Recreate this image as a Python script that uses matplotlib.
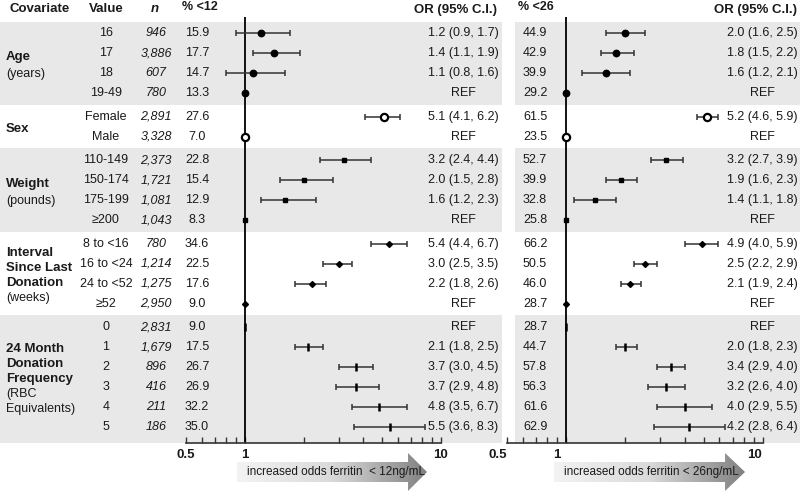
import numpy as np
import matplotlib.pyplot as plt
import matplotlib.transforms as mtransforms
from matplotlib.patches import Polygon, Rectangle
from matplotlib.colors import LinearSegmentedColormap

plt.rcParams['font.family'] = ['Liberation Sans', 'DejaVu Sans']

# --- data ---
group_bold = [['Age'], ['Sex'], ['Weight'],
              ['Interval', 'Since Last', 'Donation'],
              ['24 Month', 'Donation', 'Frequency']]
group_sub = [['(years)'], [], ['(pounds)'], ['(weeks)'], ['(RBC', 'Equivalents)']]
group_sizes = [4, 2, 4, 4, 6]
group_markers = ['o', 'open', 's', 'D', '|']

values = ['16', '17', '18', '19-49', 'Female', 'Male',
          '110-149', '150-174', '175-199', '≥200',
          '8 to <16', '16 to <24', '24 to <52', '≥52',
          '0', '1', '2', '3', '4', '5']
n_donors = ['946', '3,886', '607', '780', '2,891', '3,328',
            '2,373', '1,721', '1,081', '1,043',
            '780', '1,214', '1,275', '2,950',
            '2,831', '1,679', '896', '416', '211', '186']
pct12 = ['15.9', '17.7', '14.7', '13.3', '27.6', '7.0',
         '22.8', '15.4', '12.9', '8.3', '34.6', '22.5', '17.6', '9.0',
         '9.0', '17.5', '26.7', '26.9', '32.2', '35.0']
pct26 = ['44.9', '42.9', '39.9', '29.2', '61.5', '23.5',
         '52.7', '39.9', '32.8', '25.8', '66.2', '50.5', '46.0', '28.7',
         '28.7', '44.7', '57.8', '56.3', '61.6', '62.9']

# None = reference category (OR = 1)
or12 = [1.2, 1.4, 1.1, None, 5.1, None, 3.2, 2.0, 1.6, None,
        5.4, 3.0, 2.2, None, None, 2.1, 3.7, 3.7, 4.8, 5.5]
lo12 = [0.9, 1.1, 0.8, None, 4.1, None, 2.4, 1.5, 1.2, None,
        4.4, 2.5, 1.8, None, None, 1.8, 3.0, 2.9, 3.5, 3.6]
hi12 = [1.7, 1.9, 1.6, None, 6.2, None, 4.4, 2.8, 2.3, None,
        6.7, 3.5, 2.6, None, None, 2.5, 4.5, 4.8, 6.7, 8.3]

or26 = [2.0, 1.8, 1.6, None, 5.2, None, 3.2, 1.9, 1.4, None,
        4.9, 2.5, 2.1, None, None, 2.0, 3.4, 3.2, 4.0, 4.2]
lo26 = [1.6, 1.5, 1.2, None, 4.6, None, 2.7, 1.6, 1.1, None,
        4.0, 2.2, 1.9, None, None, 1.8, 2.9, 2.6, 2.9, 2.8]
hi26 = [2.5, 2.2, 2.1, None, 5.9, None, 3.9, 2.3, 1.8, None,
        5.9, 2.9, 2.4, None, None, 2.3, 4.0, 4.0, 5.5, 6.4]

# --- layout ---
W, H = 800, 492
fig = plt.figure(figsize=(W / 100, H / 100), dpi=100)
TXT = '#1a1a1a'
LINE = '#333333'
BAND = '#e8e8e8'
FS = 9


def fx(px):
    return px / W


def fy(py):
    return 1 - py / H


ax_bottom, ax_top = fy(443), fy(17)
axL = fig.add_axes([fx(186), ax_bottom, fx(441) - fx(186), ax_top - ax_bottom])
axR = fig.add_axes([fx(507), ax_bottom, fx(763) - fx(507), ax_top - ax_bottom])

group_idx = np.repeat(np.arange(len(group_sizes)), group_sizes)
ypos = np.arange(len(values)) + 0.175 * group_idx
starts = np.cumsum([0] + group_sizes[:-1])
ends = starts + np.array(group_sizes) - 1
ylim = (20.5, -0.8)

for ax in (axL, axR):
    ax.set_facecolor('none')
    ax.set_xscale('log')
    ax.set_xlim(0.5, 10)
    ax.set_ylim(*ylim)
    for s in ('top', 'left', 'right'):
        ax.spines[s].set_visible(False)
    ax.spines['bottom'].set_linewidth(1.2)
    ax.spines['bottom'].set_color(LINE)
    ax.set_yticks([])
    ax.set_xticks([0.5, 1, 10])
    ax.set_xticks([0.6, 0.7, 0.8, 0.9, 2, 3, 4, 5, 6, 7, 8, 9], minor=True)
    ax.set_xticklabels(['0.5', '1', '10'], fontweight='bold', fontsize=9.5, color=TXT)
    ax.xaxis.set_minor_formatter(plt.NullFormatter())
    ax.tick_params(axis='x', which='both', direction='in', length=4, width=1, color=LINE, pad=4)
    ax.axvline(1, color='black', lw=1.3, zorder=2)

# the right panel's tick labels sit a little left of their ticks in the original
shift = mtransforms.ScaledTranslation(-9 / 100, 0, fig.dpi_scale_trans)
for lab in axR.get_xticklabels():
    lab.set_transform(lab.get_transform() + shift)


def draw_forest(ax, est, lo, hi):
    for i, y in enumerate(ypos):
        m = group_markers[group_idx[i]]
        x = 1.0 if est[i] is None else est[i]
        if lo[i] is not None:
            ax.errorbar(x, y, xerr=[[x - lo[i]], [hi[i] - x]], fmt='none',
                        ecolor=LINE, elinewidth=1.1, capsize=2.5, capthick=1.1, zorder=3)
        if m == 'open':
            ax.plot(x, y, marker='o', ms=5.2, mfc='white', mec='black', mew=1.6, zorder=4)
        elif m == 'o':
            ax.plot(x, y, marker='o', ms=4.6, color='black', zorder=4)
        elif m == 's':
            ax.plot(x, y, marker='s', ms=3.2, color='black', zorder=4)
        elif m == 'D':
            ax.plot(x, y, marker='D', ms=3, color='black', zorder=4)
        else:
            ax.plot(x, y, marker='|', ms=6, mew=1.8, color='black', zorder=4)


draw_forest(axL, or12, lo12, hi12)
draw_forest(axR, or26, lo26, hi26)

tr = mtransforms.blended_transform_factory(fig.transFigure, axL.transData)

# alternating grey bands
for k in range(len(group_sizes)):
    if k % 2:
        continue
    top = ylim[1] + 0.25 if k == 0 else (ypos[ends[k - 1]] + ypos[starts[k]]) / 2
    bot = ylim[0] if k == len(group_sizes) - 1 else (ypos[ends[k]] + ypos[starts[k + 1]]) / 2
    for x0, x1 in ((0, 502), (515, 800)):
        fig.add_artist(Rectangle((fx(x0), top), fx(x1) - fx(x0), bot - top,
                                 transform=tr, facecolor=BAND, edgecolor='none', zorder=-1))

# table text
def or_text(e, l, h):
    return 'REF' if e is None else f'{e:.1f} ({l:.1f}, {h:.1f})'


for i, y in enumerate(ypos):
    fig.text(fx(106), y, values[i], transform=tr, ha='center', va='center', fontsize=FS, color=TXT)
    fig.text(fx(156), y, n_donors[i], transform=tr, ha='center', va='center', fontsize=FS,
             style='italic', color=TXT)
    fig.text(fx(197), y, pct12[i], transform=tr, ha='center', va='center', fontsize=FS, color=TXT)
    fig.text(fx(463), y, or_text(or12[i], lo12[i], hi12[i]), transform=tr, ha='center',
             va='center', fontsize=FS, color=TXT)
    fig.text(fx(523), y, pct26[i], transform=tr, ha='left', va='center', fontsize=FS, color=TXT)
    fig.text(fx(762), y, or_text(or26[i], lo26[i], hi26[i]), transform=tr, ha='center',
             va='center', fontsize=FS, color=TXT)

# covariate labels
for k in range(len(group_sizes)):
    lines = [(s, 'bold') for s in group_bold[k]] + [(s, 'normal') for s in group_sub[k]]
    centre = (ypos[starts[k]] + ypos[ends[k]]) / 2 + 0.1
    step = 0.75 if len(lines) > 2 else 0.85
    y0 = centre - step * (len(lines) - 1) / 2
    for j, (s, w) in enumerate(lines):
        fig.text(fx(6), y0 + j * step, s, transform=tr, ha='left', va='center',
                 fontsize=9.5 if w == 'bold' else FS, fontweight=w, color=TXT)

# headers
fig.text(fx(10), fy(9), 'Covariate', ha='left', va='center', fontsize=9.5, fontweight='bold', color=TXT)
fig.text(fx(106), fy(9), 'Value', ha='center', va='center', fontsize=9.5, fontweight='bold', color=TXT)
fig.text(fx(155), fy(9), 'n', ha='center', va='center', fontsize=9.5, fontweight='bold',
         style='italic', color=TXT)
fig.text(fx(200), fy(7), '% <12', ha='center', va='center', fontsize=9, fontweight='bold', color=TXT)
fig.text(fx(497), fy(10), 'OR (95% C.I.)', ha='right', va='center', fontsize=9.5, fontweight='bold', color=TXT)
fig.text(fx(536), fy(7), '% <26', ha='center', va='center', fontsize=9, fontweight='bold', color=TXT)
fig.text(fx(797), fy(10), 'OR (95% C.I.)', ha='right', va='center', fontsize=9.5, fontweight='bold', color=TXT)

# gradient arrows under the axes
ov = fig.add_axes([0, 0, 1, 1], zorder=-2)
ov.set_xlim(0, W)
ov.set_ylim(H, 0)
ov.axis('off')
ov.set_facecolor('none')
cmap = LinearSegmentedColormap.from_list('arr', ['#f3f3f3', '#dadada', '#808080'])
grad = np.linspace(0, 1, 256).reshape(1, -1)
for x0, xh, xt, label in ((237, 408, 427, 'increased odds ferritin  < 12ng/mL'),
                          (554, 725, 745, 'increased odds ferritin < 26ng/mL')):
    pts = [(x0, 462), (xh, 462), (xh, 453), (xt, 472), (xh, 491), (xh, 482), (x0, 482)]
    poly = Polygon(pts, closed=True, facecolor='none', edgecolor='none')
    ov.add_patch(poly)
    im = ov.imshow(grad, cmap=cmap, extent=(x0, xt, 491, 453), aspect='auto', zorder=1)
    im.set_clip_path(poly)
    ov.text(x0 + 10, 472, label, ha='left', va='center', fontsize=8.5, color=TXT, zorder=2)
ov.set_xlim(0, W)
ov.set_ylim(H, 0)

fig.savefig('out.png', dpi=100)
